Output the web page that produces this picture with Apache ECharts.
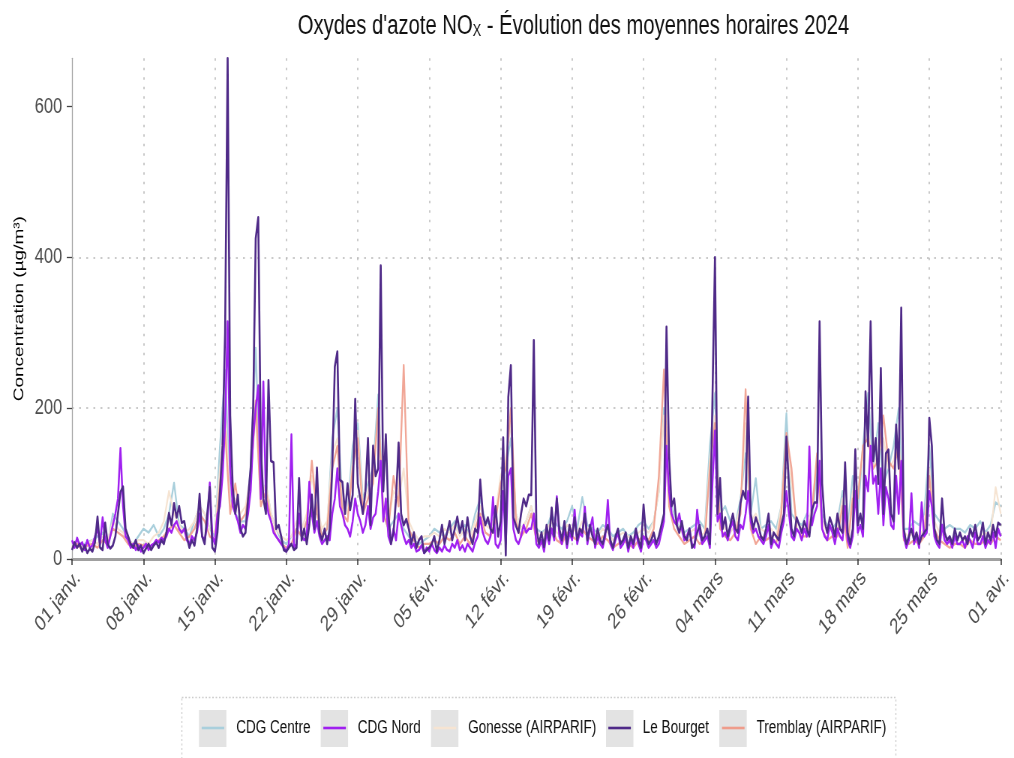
<!DOCTYPE html>
<html>
<head>
<meta charset="utf-8">
<script src="https://cdn.jsdelivr.net/npm/echarts@6/dist/echarts.min.js"></script>
<style>
  html, body { margin: 0; padding: 0; background: #fff; overflow: hidden; }
  /* the figure is laid out wide and condensed horizontally */
  #chart { width: 1352px; height: 758px; transform: scaleX(0.75); transform-origin: 0 0; }
</style>
</head>
<body>
<div id="chart"></div>
<script>
// Stations, in legend order
const stations = ['CDG Centre', 'CDG Nord', 'Gonesse (AIRPARIF)', 'Le Bourget', 'Tremblay (AIRPARIF)'];

// Weekly date ticks (days since 1 Jan 2024)
const tickLabels = ['01 janv.', '08 janv.', '15 janv.', '22 janv.', '29 janv.', '05 févr.', '12 févr.',
  '19 févr.', '26 févr.', '04 mars', '11 mars', '18 mars', '25 mars', '01 avr.'];
const yTicks = [0, 200, 400, 600];

// NOx concentrations (µg/m³), Le Bourget and CDG Nord every 6 h, the others every 12 h
const leBourget = [
  12,22,15,20, 10,18,8,14, 10,22,56,15, 12,48,20,14, 18,30,60,89, 96,40,30,20, 15,25,12,18,
  8,14,20,12, 18,22,15,25, 20,35,61,45, 74,55,70,48, 50,30,15,25, 18,40,86,30, 20,60,95,15,
  10,35,90,150, 300,664,190,95, 60,85,40,30, 35,80,120,200, 425,453,150,80, 60,237,130,128, 40,45,30,12,
  10,15,20,12, 15,107,25,40, 20,45,85,40, 121,35,25,40, 20,40,120,255, 275,105,102,60, 100,65,85,212,
  100,80,60,90, 160,45,150,110, 120,389,90,165, 60,20,35,80, 154,60,45,53, 40,20,35,15, 25,30,8,12,
  15,20,30,10, 25,45,20,35, 50,25,40,56, 35,50,25,55, 30,20,40,35, 105,60,45,55, 40,35,70,30,
  50,161,5,215, 257,55,44,35, 60,80,70,85, 85,290,42,20, 35,16,45,25, 68,30,80,40, 25,50,20,45,
  30,55,25,40, 35,60,25,45, 30,20,40,25, 20,35,45,25, 15,30,40,20, 25,35,15,30, 20,40,25,15,
  72,30,20,25, 35,20,30,45, 60,308,138,70, 80,45,35,50, 30,25,40,15, 20,35,45,25, 30,40,20,211,
  400,60,107,40, 55,30,45,60, 40,35,74,90, 80,215,60,40, 55,45,30,25, 40,60,20,35, 30,25,45,60,
  162,95,40,30, 55,45,35,50, 40,30,65,75, 75,315,100,50, 35,55,45,30, 60,40,35,128, 35,20,40,145,
  45,60,40,222, 150,315,130,160, 100,253,60,140, 145,60,50,178, 120,333,40,20, 30,40,25,35, 20,30,35,40,
  187,150,40,25, 20,80,35,25, 30,20,40,25, 35,25,30,20, 40,30,45,25, 30,48,20,35, 25,45,30,48,
  45
];
const cdgNord = [
  25,15,28,18, 22,12,25,15, 18,30,40,20, 55,25,15,30, 45,60,80,147, 70,30,25,15, 20,12,18,10,
  15,20,12,18, 20,25,22,28, 25,30,40,35, 45,50,40,35, 40,25,20,30, 25,35,60,30, 25,45,101,30,
  20,60,70,110, 180,315,120,70, 60,50,35,45, 40,60,90,160, 200,230,80,235, 80,60,50,35, 30,25,20,15,
  10,20,165,15, 20,60,30,25, 30,102,60,35, 50,30,20,25, 30,25,60,80, 120,70,60,45, 40,30,50,80,
  60,50,35,45, 70,40,55,60, 90,130,50,80, 30,20,40,25, 60,45,30,20, 25,15,20,10, 12,18,8,15,
  10,20,12,8, 15,10,18,12, 10,20,15,25, 12,18,10,20, 15,10,22,30, 55,35,25,20, 30,82,20,15,
  25,90,20,110, 120,40,25,20, 30,45,35,40, 40,60,20,15, 25,10,35,20, 40,25,83,30, 20,40,15,35,
  25,65,20,35, 30,69,20,40, 55,15,30,20, 15,30,78,20, 12,25,35,15, 20,30,10,25, 15,35,20,10,
  30,25,15,20, 25,15,20,35, 50,150,90,60, 50,45,60,40, 25,30,40,20, 15,65,35,20, 25,30,15,100,
  170,50,60,30, 35,25,40,50, 30,25,45,40, 60,90,50,35, 40,30,25,20, 30,45,15,25, 20,15,35,50,
  90,60,30,25, 40,35,25,40, 30,149,45,60, 70,130,40,30, 25,45,35,20, 40,30,25,70, 25,15,30,90,
  35,45,30,110, 90,150,100,110, 60,120,45,95, 80,45,40,110, 60,130,30,15, 25,87,20,30, 15,75,30,35,
  90,70,30,20, 15,45,25,20, 25,15,30,20, 20,25,15,30, 25,15,35,20, 20,30,15,25, 20,35,15,40,
  30
];
const cdgCentre = [
  20,25, 18,22, 25,30, 35,20, 60,50, 40,25, 20,30,
  40,35, 45,30, 40,60, 101,45, 40,30, 50,70, 60,40,
  30,150, 250,80, 60,50, 50,120, 280,80, 100,60, 40,25,
  20,30, 40,30, 50,60, 60,30, 40,160, 200,70, 60,150,
  180,80, 100,120, 218,60, 40,50, 60,40, 30,25, 20,25,
  30,40, 35,30, 40,50, 35,45, 30,60, 80,50, 45,60,
  100,120, 160,60, 40,50, 70,40, 35,40, 60,45, 40,50,
  70,40, 82,45, 40,35, 45,40, 30,35, 40,30, 35,45,
  50,40, 50,90, 200,80, 60,40, 35,40, 45,50, 40,150,
  220,60, 70,50, 45,80, 140,60, 107,40, 45,50, 40,70,
  193,60, 50,45, 60,50, 120,60, 45,40, 50,90, 40,110,
  60,150, 220,120, 180,100, 120,150, 200,40, 40,50, 45,60,
  150,60, 50,40, 45,40, 40,35, 45,40, 50,35, 45,75,
  70
];
const gonesse = [
  20,25, 15,20, 25,20, 30,25, 50,40, 35,25, 20,25,
  25,20, 30,35, 50,90, 60,45, 35,40, 50,70, 60,40,
  35,120, 200,70, 80,60, 70,110, 190,80, 100,60, 40,30,
  25,30, 50,40, 60,110, 70,40, 50,140, 160,70, 60,130,
  170,70, 90,120, 190,70, 50,90, 80,120, 50,35, 25,30,
  30,35, 30,40, 35,45, 30,40, 30,50, 70,45, 40,60,
  110,130, 180,60, 40,50, 70,35, 30,40, 50,35, 30,45,
  40,35, 50,40, 35,30, 40,35, 25,30, 35,30, 25,35,
  40,35, 50,90, 190,80, 50,40, 30,35, 40,30, 35,130,
  190,50, 40,35, 45,70, 180,50, 60,40, 35,40, 30,70,
  160,100, 50,40, 40,70, 130,50, 35,40, 40,80, 30,90,
  90,140, 170,120, 140,160, 120,130, 160,35, 30,35, 30,40,
  120,50, 35,30, 25,30, 30,25, 35,30, 30,35, 30,95,
  60
];
const tremblay = [
  15,20, 12,18, 20,15, 25,20, 40,35, 30,20, 15,20,
  18,15, 20,25, 30,40, 45,35, 25,30, 40,60, 50,30,
  25,100, 170,60, 100,50, 60,100, 210,70, 90,50, 30,20,
  15,20, 40,30, 50,130, 60,30, 40,120, 150,60, 50,120,
  160,60, 80,100, 200,60, 40,110, 70,257, 40,25, 15,20,
  20,25, 20,30, 25,35, 20,30, 20,40, 60,35, 30,50,
  100,120, 200,50, 30,40, 60,25, 20,30, 40,25, 20,35,
  30,25, 40,30, 25,20, 30,25, 15,20, 25,20, 15,25,
  30,25, 40,110, 251,70, 40,30, 20,25, 30,20, 25,120,
  180,40, 30,25, 35,60, 225,40, 20,30, 25,30, 20,60,
  167,120, 40,30, 30,60, 140,40, 25,30, 30,70, 15,80,
  80,150, 160,120, 130,190, 130,120, 150,25, 20,25, 20,30,
  110,40, 25,20, 15,20, 20,15, 25,20, 20,25, 20,30,
  25
];

const seriesValues = {
  'CDG Centre': { values: cdgCentre, perDay: 2, color: '#a9cfdc', width: 2.3, opacity: 1 },
  'CDG Nord': { values: cdgNord, perDay: 4, color: '#a020f0', width: 2.5, opacity: 1 },
  'Gonesse (AIRPARIF)': { values: gonesse, perDay: 2, color: '#f6e4d2', width: 2.2, opacity: 1 },
  'Le Bourget': { values: leBourget, perDay: 4, color: '#4f2a88', width: 2.6, opacity: 1 },
  'Tremblay (AIRPARIF)': { values: tremblay, perDay: 2, color: '#ef9c8b', width: 2.3, opacity: 0.9 }
};
// back to front
const drawOrder = ['CDG Centre', 'Gonesse (AIRPARIF)', 'Tremblay (AIRPARIF)', 'CDG Nord', 'Le Bourget'];

const FONT = 'Liberation Sans, Arial, sans-serif';
const gridLine = { color: '#b9b9b9', width: 1.5, type: [2.5, 7] };

// legend key placement (wide layout coordinates)
const legendLeft = [268.9, 431.1, 578.2, 811.1, 962.7];
const keyLeft = [265.3, 427.6, 574.7, 808, 959.1];

const chart = echarts.init(document.getElementById('chart'));

const series = drawOrder.map(name => {
  const s = seriesValues[name];
  return {
    name: name,
    type: 'line',
    showSymbol: false,
    symbol: 'none',
    color: s.color,
    lineStyle: { color: s.color, width: s.width, opacity: s.opacity, join: 'round' },
    data: s.values.map((v, i) => [i / s.perDay, v])
  };
});

const legends = stations.map((name, i) => ({
  data: [name],
  left: legendLeft[i],
  top: 719,
  padding: 0,
  icon: 'rect',
  itemWidth: 30,
  itemHeight: 2.6,
  selectedMode: false,
  textStyle: { fontFamily: FONT, fontSize: 18, color: '#111', padding: [0, 0, 0, 11] }
}));

const keyRects = keyLeft.map(x => ({
  type: 'rect',
  left: x, top: 710, z: -1,
  shape: { width: 36.5, height: 37 },
  style: { fill: '#e3e3e3' }
}));

chart.setOption({
  animation: false,
  backgroundColor: '#fff',
  title: {
    text: "Oxydes d'azote NO{sub|X} - Évolution des moyennes horaires 2024",
    left: 397,
    top: 13,
    padding: 0,
    textStyle: {
      fontFamily: FONT, fontSize: 27, fontWeight: 'normal', color: '#111', lineHeight: 27,
      rich: { sub: { fontFamily: FONT, fontSize: 17, lineHeight: 12, verticalAlign: 'bottom', color: '#111' } }
    }
  },
  grid: { left: 96, right: 14.7, top: 58.3, bottom: 199, containLabel: false },
  xAxis: {
    type: 'value',
    min: 0, max: 91, interval: 7,
    axisLine: { show: true, onZero: false, lineStyle: { color: '#a0a0a0', width: 3 } },
    axisTick: { show: true, length: 6, lineStyle: { color: '#333', width: 1.5 } },
    axisLabel: {
      rotate: 45, align: 'right', verticalAlign: 'top', margin: 8,
      fontFamily: FONT, fontSize: 22, color: '#4d4d4d',
      formatter: v => tickLabels[Math.round(v / 7)]
    },
    splitLine: { show: true, showMinLine: false, lineStyle: gridLine }
  },
  yAxis: {
    type: 'value',
    min: 0, max: 664, interval: 200,
    name: 'Concentration (µg/m³)',
    nameLocation: 'middle',
    nameGap: 60,
    nameTextStyle: { fontFamily: FONT, fontSize: 19, color: '#000' },
    axisLine: { show: true, lineStyle: { color: '#a6a6a6', width: 1.3 } },
    axisTick: { show: true, length: 7, customValues: yTicks, lineStyle: { color: '#444', width: 1.3 } },
    axisLabel: { fontFamily: FONT, fontSize: 22, color: '#4d4d4d', margin: 13, customValues: yTicks },
    splitLine: { show: true, showMinLine: false, showMaxLine: false, lineStyle: gridLine }
  },
  legend: legends,
  graphic: [
    {
      type: 'rect', left: 240, top: 695, z: -2,
      shape: { width: 952, height: 80 },
      style: { fill: 'none', stroke: '#cccccc', lineWidth: 1.3, lineDash: [2, 2.5] }
    }
  ].concat(keyRects),
  series: series
});
</script>
</body>
</html>
